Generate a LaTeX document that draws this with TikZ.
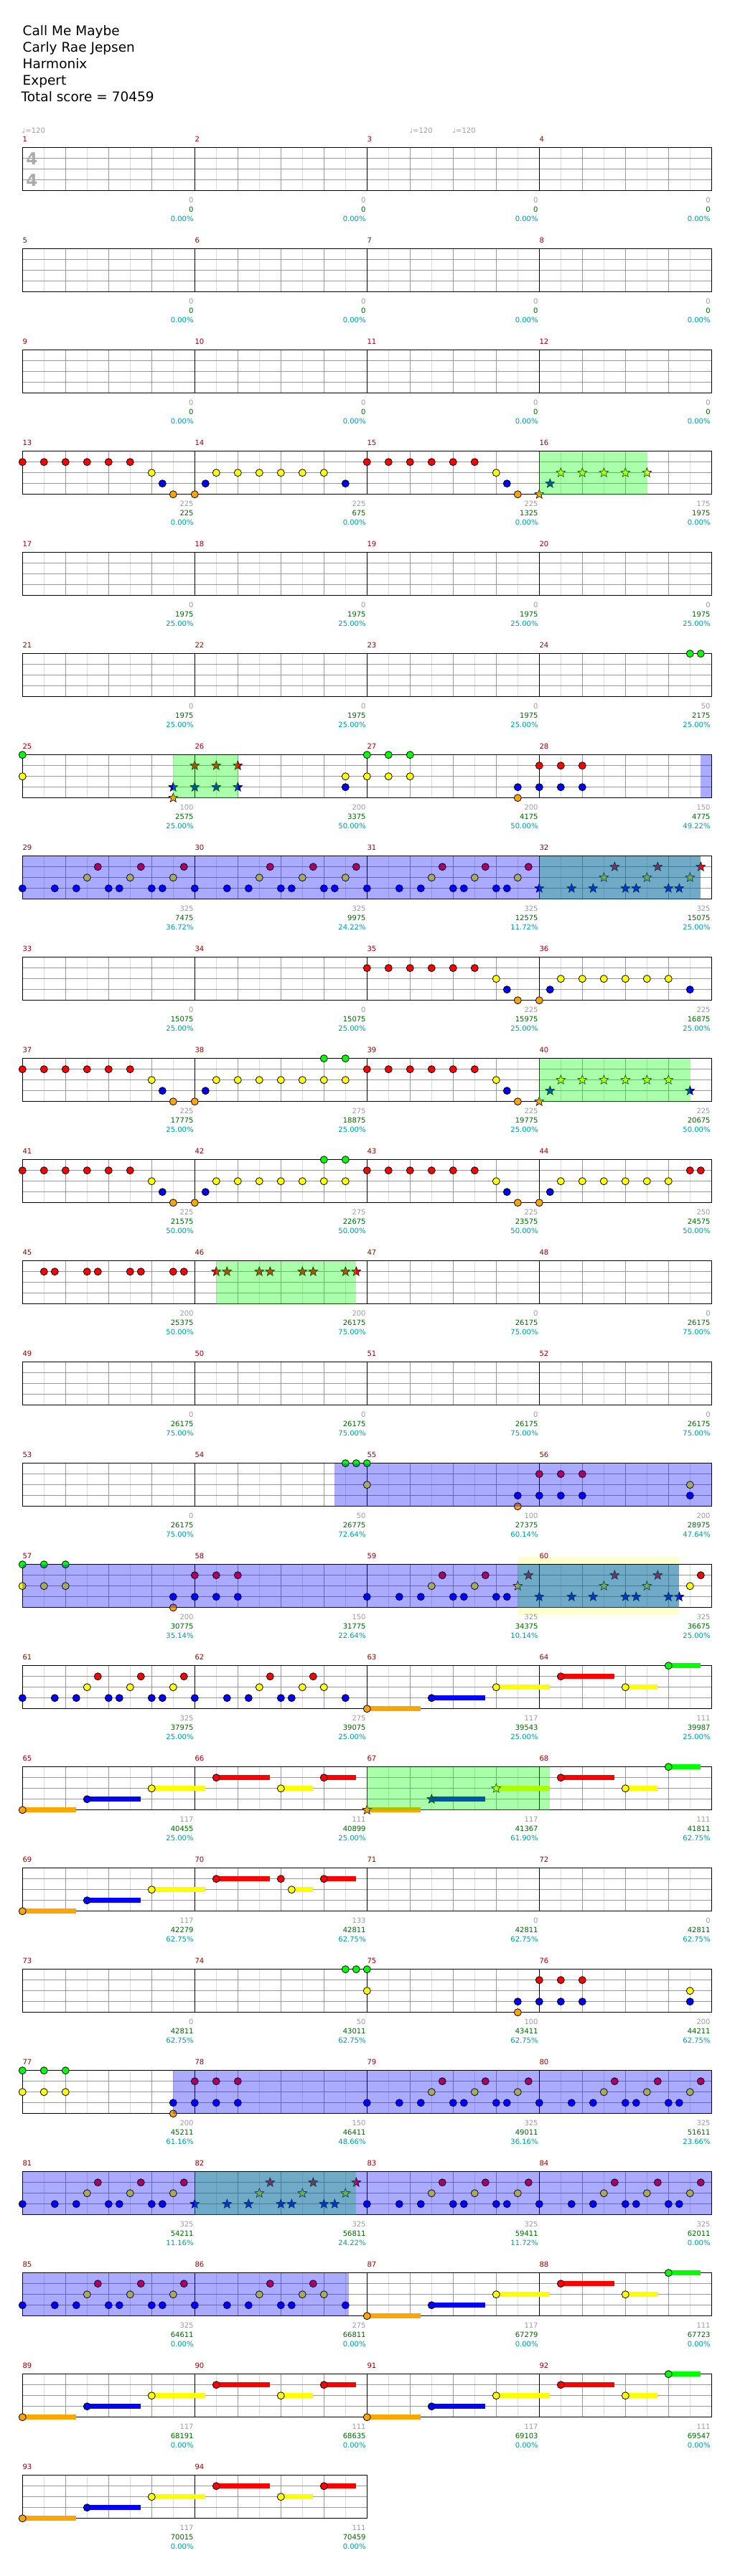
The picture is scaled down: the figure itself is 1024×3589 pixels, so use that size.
\documentclass[tikz,border=0pt]{standalone}
\usepackage{fontspec}
\setmainfont{DejaVu Sans}
\usetikzlibrary{shapes.geometric}
\definecolor{L0}{HTML}{00FF00}
\definecolor{L1}{HTML}{FF0000}
\definecolor{L2}{HTML}{FFFF00}
\definecolor{L3}{HTML}{0000FF}
\definecolor{L4}{HTML}{FFA500}
\definecolor{mnumc}{HTML}{990000}
\definecolor{gtxt}{HTML}{9C9C9C}
\definecolor{stxt}{HTML}{006600}
\definecolor{ptxt}{HTML}{009C9C}
\definecolor{paley}{HTML}{FFFFCC}
\tikzset{
 lgrid/.style={draw=black!14,line width=0.8},
 bgrid/.style={draw=black!40,line width=0.8},
 mline/.style={draw=black,line width=0.9},
 border/.style={draw=black,line width=1.2},
 starn/.style={star,star points=5,star point ratio=2.3,minimum size=13.5,inner sep=0,draw=black,line width=0.6},
 mnum/.style={text=mnumc,font=\fontsize{10}{12}\selectfont,inner sep=0},
 gl/.style={text=gtxt,font=\fontsize{10}{12}\selectfont,inner sep=0},
 sl/.style={text=stxt,font=\fontsize{10}{12}\selectfont,inner sep=0},
 pl/.style={text=ptxt,font=\fontsize{10}{12}\selectfont,inner sep=0},
 ttl/.style={font=\fontsize{18.5}{22}\selectfont,inner sep=0},
 tempo/.style={text=black!38,font=\fontsize{10}{12}\selectfont,inner sep=0},
 tsig/.style={text=black!33,font=\fontsize{23}{25}\selectfont\bfseries,inner sep=0}
}
\newcommand\MX[2]{\pgfmathsetmacro\xx{31.3+240*mod(#1-1,4)+15*(#2)}}
\newcommand\MY[2]{\pgfmathsetmacro\yy{205.7+141*floor((#1-1)/4)+15*(#2)}}
\newcommand\nt[3]{\MX{#1}{#2}\MY{#1}{#3}\fill[L#3,draw=black,line width=0.8] (\xx,\yy) circle (5);}
\newcommand\st[3]{\MX{#1}{#2}\MY{#1}{#3}\node[starn,fill=L#3] at (\xx,\yy) {};}
\newcommand\NN[3]{\foreach \pp in {#3}{\nt{#1}{\pp}{#2}}}
\newcommand\SN[3]{\foreach \pp in {#3}{\st{#1}{\pp}{#2}}}
\newcommand\sus[4]{\MX{#1}{#2}\MY{#1}{#3}\fill[L#3] (\xx,\yy-3.4) rectangle ++(15*#4,6.8);\fill[L#3,draw=black,line width=0.8] (\xx,\yy) circle (5);}
\newcommand\sst[4]{\MX{#1}{#2}\MY{#1}{#3}\fill[L#3] (\xx,\yy-3.4) rectangle ++(15*#4,6.8);\node[starn,fill=L#3] at (\xx,\yy) {};}
\newcommand\Reg[5]{\MX{#2}{#3}\let\xa\xx\MX{#4}{#5}\let\xb\xx\MY{#2}{0}\fill[#1,fill opacity=0.333] (\xa,\yy) rectangle (\xb,\yy+60);}
\newcommand\staffrow[2]{%
 \pgfmathsetmacro\tp{205.7+141*#1}%
 \pgfmathsetmacro\rt{31.3+240*#2}%
 \pgfmathtruncatemacro\nh{8*#2-1}%
 \pgfmathtruncatemacro\nb{4*#2-1}%
 \pgfmathtruncatemacro\nmm{#2-1}%
 \fill[white] (31.3,\tp) rectangle (\rt,\tp+60);
 \foreach \k in {1,...,\nh}{\draw[lgrid] ({31.3+30*\k},\tp) -- ++(0,60);}
 \foreach \k in {1,...,\nb}{\draw[bgrid] ({31.3+60*\k},\tp) -- ++(0,60);}
 \foreach \k in {1,2,3}{\draw[bgrid] (31.3,\tp+15*\k) -- (\rt,\tp+15*\k);}
 \foreach \k in {1,...,\nmm}{\draw[mline] ({31.3+240*\k},\tp) -- ++(0,60);}
 \draw[border] (31.3,\tp) rectangle (\rt,\tp+60);
}
\newcommand\PA[1]{\NN{#1}{1}{0,2,4,6,8,10}\NN{#1}{2}{12}\NN{#1}{3}{13}\NN{#1}{4}{14}}
\newcommand\PatP[1]{\NN{#1}{3}{0,3,5,8,9,12,13}\NN{#1}{2}{6,10,14}\NN{#1}{1}{7,11,15}}
\newcommand\PatPs[1]{\SN{#1}{3}{0,3,5,8,9,12,13}\SN{#1}{2}{6,10,14}\SN{#1}{1}{7,11,15}}
\newcommand\SusA[1]{\sus{#1}{0}{4}{5}\sus{#1}{6}{3}{5}\sus{#1}{12}{2}{5}}
\newcommand\SusB[1]{\sus{#1}{2}{1}{5}\sus{#1}{8}{2}{3}\sus{#1}{12}{0}{3}}
\newcommand\SusC[1]{\sus{#1}{2}{1}{5}\sus{#1}{8}{2}{3}\sus{#1}{12}{1}{3}}
\begin{document}
\begin{tikzpicture}[x=1pt,y=-1pt]
\useasboundingbox (0,0) rectangle (1024,3589);
\fill[white] (0,0) rectangle (1024,3589);
% title
\node[ttl,anchor=base west] (t1) at (31.5,49.3) {Call Me Maybe};
\node[ttl,anchor=base west] (t2) at (31.5,72.5) {Carly Rae Jepsen};
\node[ttl,anchor=base west] (t3) at (31.5,95.5) {Harmonix};
\node[ttl,anchor=base west] (t4) at (31.5,118.5) {Expert};
\node[ttl,anchor=base west] (t5) at (29.5,141.5) {Total score = 70459};
% pale yellow (behind)
\MX{59}{14}\let\xa\xx\MX{60}{13}\let\xb\xx\MY{59}{0}
\fill[paley] (\xa,\yy-10.5) rectangle (\xb,\yy+70);
% staves
\foreach \r in {0,...,22}{\staffrow{\r}{4}}
\staffrow{23}{2}
% tempo + time signature
\node[tempo,anchor=base west] (tm1) at (30.5,185) {♩=120};
\node[tempo,anchor=base west] (tm2) at (570.3,185) {♩=120};
\node[tempo,anchor=base west] (tm3) at (630.3,185) {♩=120};
\node[tsig] (ts1) at (44.3,221.3) {4};
\node[tsig] (ts2) at (44.3,251.3) {4};
% measure numbers
\foreach \m in {1,...,94}{\MX{\m}{0}\MY{\m}{0}\node[mnum,anchor=base west] at (\xx,\yy-8) {\m};}
% ---- notes ----
\PA{13}
\NN{14}{4}{0}\NN{14}{3}{1}\NN{14}{2}{2,4,6,8,10,12}\NN{14}{3}{14}
\PA{15}
\st{16}{0}{4}\st{16}{1}{3}\SN{16}{2}{2,4,6,8,10}
\NN{24}{0}{14,15}
\NN{25}{0}{0}\NN{25}{2}{0}\st{25}{14}{3}\st{25}{14}{4}
\SN{26}{1}{0,2,4}\SN{26}{3}{0,2,4}\NN{26}{2}{14}\NN{26}{3}{14}
\NN{27}{0}{0,2,4}\NN{27}{2}{0,2,4}\NN{27}{3}{14}\NN{27}{4}{14}
\NN{28}{1}{0,2,4}\NN{28}{3}{0,2,4}
\PatP{29}\PatP{30}\PatP{31}\PatPs{32}
\PA{35}
\NN{36}{4}{0}\NN{36}{3}{1}\NN{36}{2}{2,4,6,8,10,12}\NN{36}{3}{14}
\PA{37}
\NN{38}{4}{0}\NN{38}{3}{1}\NN{38}{2}{2,4,6,8,10,12,14}\NN{38}{0}{12,14}
\PA{39}
\st{40}{0}{4}\st{40}{1}{3}\SN{40}{2}{2,4,6,8,10,12}\st{40}{14}{3}
\PA{41}
\NN{42}{4}{0}\NN{42}{3}{1}\NN{42}{2}{2,4,6,8,10,12,14}\NN{42}{0}{12,14}
\PA{43}
\NN{44}{4}{0}\NN{44}{3}{1}\NN{44}{2}{2,4,6,8,10,12}\NN{44}{1}{14,15}
\NN{45}{1}{2,3,6,7,10,11,14,15}
\SN{46}{1}{2,3,6,7,10,11,14,15}
\NN{54}{0}{14,15}
\NN{55}{0}{0}\NN{55}{2}{0}\NN{55}{3}{14}\NN{55}{4}{14}
\NN{56}{1}{0,2,4}\NN{56}{3}{0,2,4}\NN{56}{2}{14}\NN{56}{3}{14}
\NN{57}{0}{0,2,4}\NN{57}{2}{0,2,4}\NN{57}{3}{14}\NN{57}{4}{14}
\NN{58}{1}{0,2,4}\NN{58}{3}{0,2,4}
\NN{59}{3}{0,3,5,8,9,12,13}\NN{59}{2}{6,10}\NN{59}{1}{7,11}\st{59}{14}{2}\st{59}{15}{1}
\SN{60}{3}{0,3,5,8,9,12,13}\SN{60}{2}{6,10}\SN{60}{1}{7,11}\NN{60}{2}{14}\NN{60}{1}{15}
\PatP{61}
\NN{62}{3}{0,3,5,8,9,14}\NN{62}{2}{6,10,12}\NN{62}{1}{7,11}
\SusA{63}\SusB{64}
\SusA{65}\SusC{66}
\sst{67}{0}{4}{5}\sst{67}{6}{3}{5}\sst{67}{12}{2}{5}
\SusB{68}
\SusA{69}
\sus{70}{2}{1}{5}\nt{70}{8}{1}\sus{70}{9}{2}{2}\sus{70}{12}{1}{3}
\NN{74}{0}{14,15}
\NN{75}{0}{0}\NN{75}{2}{0}\NN{75}{3}{14}\NN{75}{4}{14}
\NN{76}{1}{0,2,4}\NN{76}{3}{0,2,4}\NN{76}{2}{14}\NN{76}{3}{14}
\NN{77}{0}{0,2,4}\NN{77}{2}{0,2,4}\NN{77}{3}{14}\NN{77}{4}{14}
\NN{78}{1}{0,2,4}\NN{78}{3}{0,2,4}
\PatP{79}\PatP{80}
\PatP{81}\PatPs{82}\PatP{83}\PatP{84}
\PatP{85}
\NN{86}{3}{0,3,5,8,9,14}\NN{86}{2}{6,10,12}\NN{86}{1}{7,11}
\SusA{87}\SusB{88}
\SusA{89}\SusC{90}
\SusA{91}\SusB{92}
\SusA{93}\SusC{94}
% ---- overlays ----
\Reg{L0}{16}{0}{16}{10}
\Reg{L0}{25}{14}{26}{4}
\Reg{L0}{32}{0}{32}{15}
\Reg{L0}{40}{0}{40}{14}
\Reg{L0}{46}{2}{46}{15}
\Reg{L0}{59}{14}{60}{13}
\Reg{L0}{67}{0}{68}{1}
\Reg{L0}{82}{0}{82}{15}
\Reg{L3}{28}{15}{28}{16}
\Reg{L3}{29}{0}{32}{15}
\Reg{L3}{54}{13}{56}{16}
\Reg{L3}{57}{0}{60}{13}
\Reg{L3}{77}{14}{80}{16}
\Reg{L3}{81}{0}{84}{16}
\Reg{L3}{85}{0}{86}{14.3}
% ---- score labels ----
\foreach \m/\a/\b/\c in {1/0/0/0.00\%,2/0/0/0.00\%,3/0/0/0.00\%,4/0/0/0.00\%,5/0/0/0.00\%,6/0/0/0.00\%,7/0/0/0.00\%,8/0/0/0.00\%,9/0/0/0.00\%,10/0/0/0.00\%,11/0/0/0.00\%,12/0/0/0.00\%,
13/225/225/0.00\%,14/225/675/0.00\%,15/225/1325/0.00\%,16/175/1975/0.00\%,
17/0/1975/25.00\%,18/0/1975/25.00\%,19/0/1975/25.00\%,20/0/1975/25.00\%,21/0/1975/25.00\%,22/0/1975/25.00\%,23/0/1975/25.00\%,24/50/2175/25.00\%,
25/100/2575/25.00\%,26/200/3375/50.00\%,27/200/4175/50.00\%,28/150/4775/49.22\%,
29/325/7475/36.72\%,30/325/9975/24.22\%,31/325/12575/11.72\%,32/325/15075/25.00\%,
33/0/15075/25.00\%,34/0/15075/25.00\%,35/225/15975/25.00\%,36/225/16875/25.00\%,
37/225/17775/25.00\%,38/275/18875/25.00\%,39/225/19775/25.00\%,40/225/20675/50.00\%,
41/225/21575/50.00\%,42/275/22675/50.00\%,43/225/23575/50.00\%,44/250/24575/50.00\%,
45/200/25375/50.00\%,46/200/26175/75.00\%,47/0/26175/75.00\%,48/0/26175/75.00\%,
49/0/26175/75.00\%,50/0/26175/75.00\%,51/0/26175/75.00\%,52/0/26175/75.00\%,
53/0/26175/75.00\%,54/50/26775/72.64\%,55/100/27375/60.14\%,56/200/28975/47.64\%,
57/200/30775/35.14\%,58/150/31775/22.64\%,59/325/34375/10.14\%,60/325/36675/25.00\%,
61/325/37975/25.00\%,62/275/39075/25.00\%,63/117/39543/25.00\%,64/111/39987/25.00\%,
65/117/40455/25.00\%,66/111/40899/25.00\%,67/117/41367/61.90\%,68/111/41811/62.75\%,
69/117/42279/62.75\%,70/133/42811/62.75\%,71/0/42811/62.75\%,72/0/42811/62.75\%,
73/0/42811/62.75\%,74/50/43011/62.75\%,75/100/43411/62.75\%,76/200/44211/62.75\%,
77/200/45211/61.16\%,78/150/46411/48.66\%,79/325/49011/36.16\%,80/325/51611/23.66\%,
81/325/54211/11.16\%,82/325/56811/24.22\%,83/325/59411/11.72\%,84/325/62011/0.00\%,
85/325/64611/0.00\%,86/275/66811/0.00\%,87/117/67279/0.00\%,88/111/67723/0.00\%,
89/117/68191/0.00\%,90/111/68635/0.00\%,91/117/69103/0.00\%,92/111/69547/0.00\%,
93/117/70015/0.00\%,94/111/70459/0.00\%}{
 \MX{\m}{16}\MY{\m}{0}
 \node[gl,anchor=base east] at (\xx-1.5,\yy+76.3) {\a};
 \node[sl,anchor=base east] at (\xx-1.5,\yy+89.6) {\b};
 \node[pl,anchor=base east] at (\xx-1.5,\yy+102.8) {\c};
}
\end{tikzpicture}
\end{document}
